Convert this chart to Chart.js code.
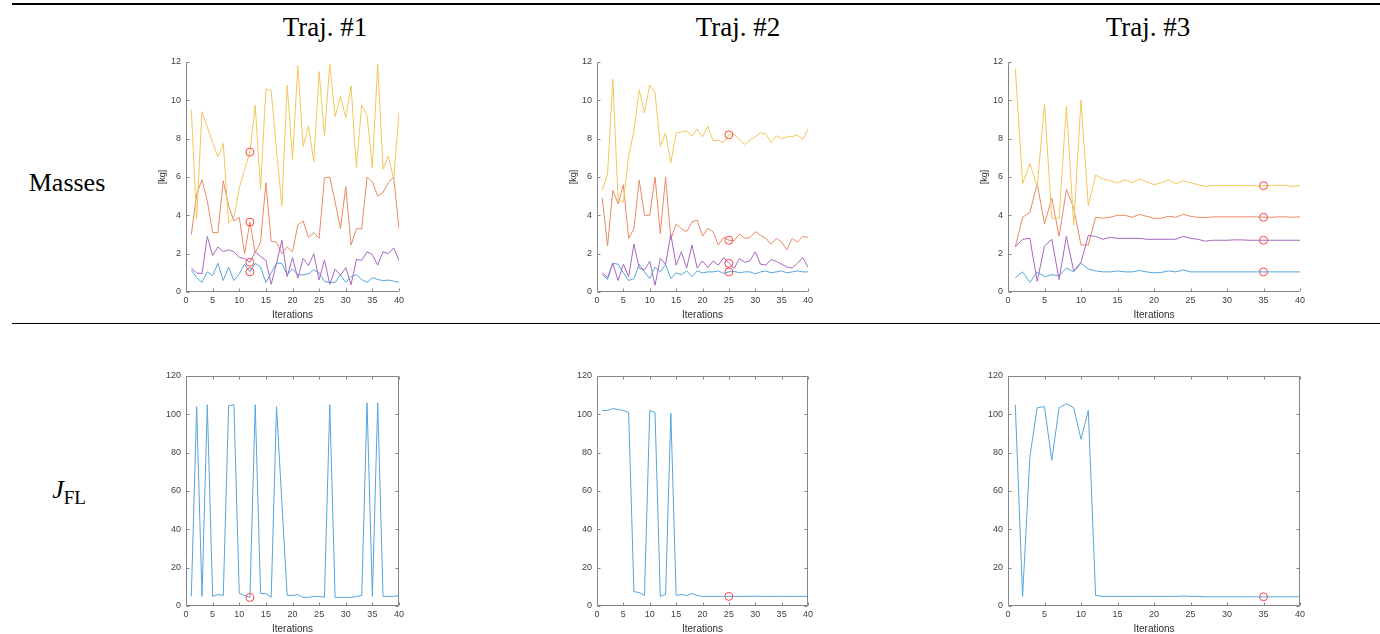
<!DOCTYPE html>
<html>
<head>
<meta charset="utf-8">
<script src="https://cdn.jsdelivr.net/npm/chart.js@4.4.0/dist/chart.umd.min.js"></script>
<style>
  body { margin: 0; width: 1380px; height: 634px; overflow: hidden; background: #fff; position: relative;
         font-family: "Liberation Serif", "Times New Roman", serif; color: #000; }
  .rule { position: absolute; left: 12px; right: 0; background: #000; }
  .lbl { position: absolute; white-space: nowrap; transform: translateX(-50%); }
  canvas { position: absolute; }
</style>
</head>
<body>
<div class="rule" style="top:3px;height:2px"></div>
<div class="rule" style="top:323px;height:1px"></div>

<div class="lbl" style="left:325px;top:14px;font-size:27px;line-height:27px">Traj. #1</div>
<div class="lbl" style="left:738px;top:14px;font-size:27px;line-height:27px">Traj. #2</div>
<div class="lbl" style="left:1148px;top:14px;font-size:27px;line-height:27px">Traj. #3</div>
<div class="lbl" style="left:67px;top:170px;font-size:26px;line-height:26px">Masses</div>
<div class="lbl" style="left:69px;top:477px;font-size:26px;line-height:26px"><i>J</i><span style="font-size:19px;vertical-align:-6px;line-height:0">FL</span></div>

<canvas id="m1"></canvas><canvas id="m2"></canvas><canvas id="m3"></canvas>
<canvas id="j1"></canvas><canvas id="j2"></canvas><canvas id="j3"></canvas>

<script>
const ITERATIONS = [1,2,3,4,5,6,7,8,9,10,11,12,13,14,15,16,17,18,19,20,
                    21,22,23,24,25,26,27,28,29,30,31,32,33,34,35,36,37,38,39,40];
const MARK_ITER = [12, 25, 35];
const X_TICKS = { min: 0, max: 40, step: 5 };
const MASS_TICKS = { min: 0, max: 12, step: 2 };
const J_TICKS = { min: 0, max: 120, step: 20 };

// Traj #1 masses [kg]
const T1_BLUE   = [1.15,0.75,0.5,1.05,0.85,1.5,0.6,1.3,0.6,0.95,1.45,1.05,1.5,1.3,0.5,1.0,1.5,1.5,0.9,1.2,
                   0.9,0.9,0.95,1.15,1.0,0.55,0.5,0.5,0.9,0.5,0.8,0.9,0.65,0.5,0.75,0.65,0.6,0.62,0.57,0.5];
const T1_ORANGE = [3.0,5.1,5.85,4.75,3.1,3.1,5.8,4.5,3.7,3.9,2.0,3.65,2.05,2.6,5.7,2.65,2.6,2.0,2.35,2.1,
                   3.5,3.7,2.85,3.1,2.8,5.95,6.0,4.7,3.3,5.5,2.45,3.3,3.3,6.0,5.75,5.0,5.2,5.7,6.0,3.3];
const T1_YELLOW = [9.5,3.8,9.4,8.6,7.8,7.05,7.75,3.6,3.9,5.4,6.4,7.3,9.75,5.35,10.6,10.5,7.4,4.5,10.8,6.9,
                   11.8,7.6,8.65,6.8,11.5,8.15,11.9,9.15,10.2,9.1,10.75,6.5,9.75,9.2,6.5,11.9,6.4,7.1,5.9,9.35];
const T1_PURPLE = [1.25,1.0,0.95,2.9,1.9,2.35,2.1,2.2,2.1,1.8,1.75,1.55,2.1,1.85,1.65,0.4,1.5,2.7,0.8,1.8,
                   0.72,1.75,1.38,2.0,0.63,1.68,0.4,1.2,0.88,1.27,0.38,1.7,1.65,2.1,1.95,1.4,2.1,2.0,2.3,1.65];

// Traj #2 masses [kg]
const T2_BLUE   = [0.9,0.65,1.5,1.45,1.0,0.6,0.7,1.45,1.05,0.7,1.3,1.05,1.45,0.7,1.0,0.9,1.1,0.8,1.1,1.0,
                   1.05,1.05,1.1,0.97,1.05,1.08,1.0,1.05,1.05,0.95,1.05,1.1,1.0,1.05,1.1,1.0,1.05,1.1,1.05,1.05];
const T2_ORANGE = [4.9,2.4,5.3,4.6,5.6,2.8,3.3,5.85,4.0,4.0,6.0,3.05,6.0,2.75,3.55,3.3,3.15,3.65,3.75,2.92,
                   3.32,3.15,2.45,2.85,2.7,2.68,3.03,2.8,2.83,3.15,2.95,2.8,2.5,2.8,2.6,2.2,2.8,2.6,2.9,2.85];
const T2_YELLOW = [5.3,6.15,11.1,4.8,4.7,7.1,8.4,10.55,9.35,10.8,10.4,7.6,8.3,6.75,8.3,8.35,8.4,8.15,8.5,8.1,
                   8.65,7.9,7.9,7.8,8.2,8.23,7.93,7.7,7.93,8.1,8.3,8.25,7.8,8.15,8.0,8.1,8.1,8.2,7.95,8.5];
const T2_PURPLE = [1.0,0.75,1.5,0.6,1.45,0.8,2.5,1.25,1.15,1.6,0.35,1.75,1.45,3.0,1.4,2.1,1.25,2.45,1.25,1.62,
                   1.27,1.62,1.4,1.8,1.5,1.23,1.75,1.55,1.63,2.1,1.45,1.4,1.7,1.6,1.45,1.3,1.25,1.5,1.8,1.3];

// Traj #3 masses [kg]
const T3_BLUE   = [0.75,1.05,0.5,1.05,0.8,0.9,0.85,1.25,1.05,1.5,1.2,1.1,1.05,1.05,1.1,1.05,1.05,1.12,1.05,1.0,
                   1.02,1.1,1.05,1.15,1.05,1.05,1.05,1.05,1.05,1.05,1.05,1.05,1.05,1.05,1.05,1.05,1.05,1.05,1.05,1.05];
const T3_ORANGE = [2.35,3.9,4.15,5.65,3.55,4.9,2.9,5.35,4.4,2.45,2.45,3.9,3.85,3.9,4.0,4.0,3.9,4.05,3.95,3.85,
                   3.85,3.95,3.9,4.05,3.95,3.9,3.88,3.92,3.92,3.92,3.92,3.92,3.92,3.92,3.9,3.9,3.92,3.92,3.9,3.92];
const T3_YELLOW = [11.65,5.65,6.7,5.5,9.8,3.85,3.85,9.7,3.5,10.0,4.5,6.1,5.9,5.8,5.7,5.85,5.7,5.9,5.75,5.6,
                   5.7,5.85,5.65,5.8,5.7,5.6,5.5,5.55,5.55,5.55,5.55,5.55,5.55,5.53,5.55,5.55,5.57,5.57,5.5,5.57];
const T3_PURPLE = [2.35,2.75,2.8,0.55,2.4,2.75,0.65,2.9,1.1,1.55,2.95,2.9,2.75,2.85,2.8,2.8,2.8,2.8,2.75,2.75,
                   2.75,2.75,2.75,2.9,2.8,2.75,2.65,2.7,2.7,2.7,2.72,2.72,2.7,2.7,2.7,2.7,2.7,2.7,2.7,2.7];

// J_FL per trajectory
const J1 = [5,104,5,105,5,6,5.5,104.5,105,6.5,5.5,4.5,105,6.5,6.5,4.5,104,54,5.5,5.5,
            6,4.5,4.5,5,5,4.5,105,4.5,4.5,4.5,4.5,5,5.5,106,5,106,5,5,5,5.5];
const J2 = [102,102,103,102.5,102,101,7.5,7,5.5,102,101,5,6,100.5,5.5,6,5.5,6.5,5.5,5,
            5,5,5,5,5,5,5,5,5,5.2,5,5,5,5,5,5,5,5,5,5];
const J3 = [105,5,78,103.5,104,76,103.5,105.5,103.5,87,102,5.5,5,5,5,5,5,5,5,5,
            5,5,5,5.2,5,5,4.8,4.8,4.8,4.8,4.8,4.8,4.8,4.8,4.8,4.8,4.8,4.8,4.8,4.8];

const C_BLUE = "#56a5dc", C_ORANGE = "#e98a63", C_YELLOW = "#f3c65a", C_PURPLE = "#a767bf", C_MARK = "#ff4545";

// plot-area geometry (px on the page)
const COLS = [[186, 399], [597, 808], [1008, 1300]];
const ROW_TOP = [62, 376];
const PLOT_H = 230, WY = 55, PT = 8, PR = 12, HX = 28;

Chart.defaults.font.family = '"Liberation Sans", Arial, sans-serif';

const matlabAxes = {
  id: "matlabAxes",
  afterDatasetsDraw(chart, args, opts) {
    const { ctx, chartArea: a, scales: { x, y } } = chart;
    const L = Math.round(a.left) + 0.5, R = Math.round(a.right) - 0.5;
    const T = Math.round(a.top) + 0.5, B = Math.round(a.bottom) - 0.5;
    ctx.save();
    ctx.strokeStyle = "#858585";
    ctx.lineWidth = 1;
    ctx.beginPath();
    ctx.moveTo(L, T); ctx.lineTo(L, B); ctx.lineTo(R, B);
    if (opts.box) { ctx.lineTo(R, T); ctx.lineTo(L, T); }
    x.ticks.forEach((t) => {
      const px = Math.round(x.getPixelForValue(t.value)) + 0.5;
      ctx.moveTo(px, B); ctx.lineTo(px, B - 3);
      if (opts.box) { ctx.moveTo(px, T); ctx.lineTo(px, T + 3); }
    });
    y.ticks.forEach((t) => {
      const py = Math.round(y.getPixelForValue(t.value)) + 0.5;
      ctx.moveTo(L, py); ctx.lineTo(L + 3, py);
      if (opts.box) { ctx.moveTo(R, py); ctx.lineTo(R - 3, py); }
    });
    ctx.stroke();
    ctx.restore();
  },
};

function makePanel(id, col, row, series, markIter, yT, yTitle, box) {
  const cv = document.getElementById(id);
  const [x0, x1] = COLS[col];
  cv.width = WY + (x1 - x0) + PR;
  cv.height = PT + PLOT_H + HX;
  cv.style.left = (x0 - WY) + "px";
  cv.style.top = (ROW_TOP[row] - PT) + "px";

  const markers = {
    data: series.map((s) => ({ x: markIter, y: s.data[ITERATIONS.indexOf(markIter)] })),
    showLine: false, pointRadius: 4, pointBorderWidth: 1,
    pointBorderColor: C_MARK, pointBackgroundColor: "rgba(0,0,0,0)",
  };
  // dataset 0 is painted last in Chart.js, so put markers first and the first series at the end
  const lines = series.slice().reverse().map((s) => ({
    data: ITERATIONS.map((it, i) => ({ x: it, y: s.data[i] })),
    borderColor: s.color, borderWidth: 1, pointRadius: 0, tension: 0,
  }));

  new Chart(cv, {
    type: "line",
    data: { datasets: [markers, ...lines] },
    options: {
      responsive: false, animation: false, devicePixelRatio: 1,
      layout: { padding: { left: 0, top: PT, right: PR, bottom: 0 } },
      plugins: { legend: { display: false }, tooltip: { enabled: false }, matlabAxes: { box } },
      scales: {
        x: {
          type: "linear", min: X_TICKS.min, max: X_TICKS.max,
          ticks: { stepSize: X_TICKS.step, padding: 3, color: "#404040", font: { size: 9 } },
          grid: { display: false, drawTicks: false }, border: { display: false },
          title: { display: true, text: "Iterations", color: "#303030", font: { size: 10, lineHeight: 1 }, padding: { top: 0, bottom: 0 } },
          afterFit(s) { s.height = HX; s.paddingLeft = 0; s.paddingRight = 0; },
        },
        y: {
          type: "linear", min: yT.min, max: yT.max,
          ticks: { stepSize: yT.step, padding: 5, color: "#404040", font: { size: 9 } },
          grid: { display: false, drawTicks: false }, border: { display: false },
          title: { display: !!yTitle, text: yTitle || "", color: "#303030", font: { size: 9, lineHeight: 1 }, padding: { top: 27, bottom: 0 } },
          afterFit(s) { s.width = WY; s.paddingTop = 0; s.paddingBottom = 0; },
        },
      },
    },
    plugins: [matlabAxes],
  });
}

function masses(b, o, y, p) {
  return [
    { data: b, color: C_BLUE }, { data: o, color: C_ORANGE },
    { data: y, color: C_YELLOW }, { data: p, color: C_PURPLE },
  ];
}

makePanel("m1", 0, 0, masses(T1_BLUE, T1_ORANGE, T1_YELLOW, T1_PURPLE), MARK_ITER[0], MASS_TICKS, "[kg]", false);
makePanel("m2", 1, 0, masses(T2_BLUE, T2_ORANGE, T2_YELLOW, T2_PURPLE), MARK_ITER[1], MASS_TICKS, "[kg]", false);
makePanel("m3", 2, 0, masses(T3_BLUE, T3_ORANGE, T3_YELLOW, T3_PURPLE), MARK_ITER[2], MASS_TICKS, "[kg]", false);
makePanel("j1", 0, 1, [{ data: J1, color: C_BLUE }], MARK_ITER[0], J_TICKS, null, true);
makePanel("j2", 1, 1, [{ data: J2, color: C_BLUE }], MARK_ITER[1], J_TICKS, null, true);
makePanel("j3", 2, 1, [{ data: J3, color: C_BLUE }], MARK_ITER[2], J_TICKS, null, true);
</script>
</body>
</html>
